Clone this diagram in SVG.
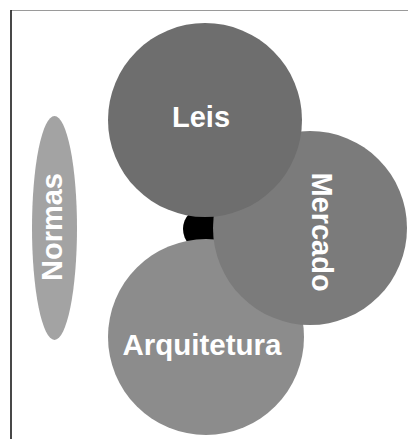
<svg xmlns="http://www.w3.org/2000/svg" width="409" height="439" viewBox="0 0 409 439">
<style>
.lbl{font-family:"Liberation Sans",Arial,sans-serif;font-weight:bold;font-size:29px;fill:#ffffff;text-anchor:middle}
</style>
<rect width="409" height="439" fill="#ffffff"/>
<g id="frame">
<line x1="11" y1="10.5" x2="408" y2="10.5" stroke="#9a9a9a" stroke-width="1.2"/>
<line x1="11" y1="10" x2="11" y2="439" stroke="#1a1a1a" stroke-width="1.6"/>
</g>
<g id="connectors"></g>
<g id="centre"><circle cx="205" cy="229" r="22" fill="#000000"/></g>
<g id="normas">
<ellipse cx="54.5" cy="228" rx="22.5" ry="112" fill="#a3a3a3"/>
<text class="lbl" transform="translate(62,227) rotate(-90)">Normas</text>
</g>
<g id="arquitetura">
<circle cx="206" cy="337" r="98" fill="#8c8c8c"/>
<text class="lbl" x="202" y="355" style="font-size:29.5px">Arquitetura</text>
</g>
<g id="mercado">
<circle cx="310" cy="228" r="97" fill="#7b7b7b"/>
<text class="lbl" transform="translate(312,232) rotate(90)">Mercado</text>
</g>
<g id="leis">
<circle cx="205" cy="120" r="97" fill="#6e6e6e"/>
<text class="lbl" x="201" y="127">Leis</text>
</g>
</svg>
